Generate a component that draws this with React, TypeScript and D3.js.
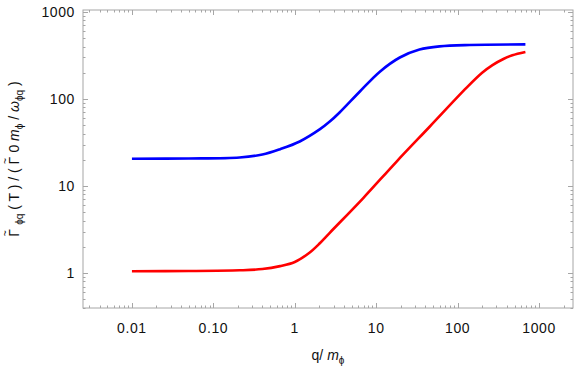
import React from 'react'
import * as d3 from 'd3'

// values
const blueQ = [0.01, 0.05, 0.21, 0.4, 0.66, 1.15, 2.04, 2.69, 3.55, 6.3, 11, 19.5, 34, 60, 140, 680]
const blueValues = [20.6, 20.7, 21.3, 23, 26.5, 32.5, 45, 55, 70, 122, 205, 300, 370, 403, 418, 424]
const redQ = [0.01, 0.05, 0.21, 0.4, 0.66, 1.0, 1.5, 2.03, 2.69, 6.89, 17.7, 45.3, 128, 200, 268, 370, 470, 680]
const redValues = [1.05, 1.055, 1.075, 1.11, 1.2, 1.34, 1.7, 2.2, 2.9, 7.22, 19, 48, 134, 200, 245, 290, 318, 347]

const xTickValues = [0.01, 0.1, 1, 10, 100, 1000]
const xTickLabels = ['0.01', '0.10', '1', '10', '100', '1000']
const yTickValues = [1, 10, 100, 1000]
const yTickLabels = ['1', '10', '100', '1000']

const W = 581, H = 375
const margin = {top: 10, right: 8, bottom: 67, left: 83}
const FONT = "'Liberation Sans', Arial, sans-serif"
const FRAME = '#a6a6a6'

function minorTicks(lo: number, hi: number) {
    const out: number[] = []
    for (let e = Math.floor(Math.log10(lo)); e <= Math.ceil(Math.log10(hi)); e++) {
        for (let m = 1; m < 10; m++) {
            const v = m * Math.pow(10, e)
            if (v >= lo && v <= hi) out.push(v)
        }
    }
    return out
}

// Gamma with a tilde set above it
const GammaTilde = () => (
    <>
        <tspan>Γ</tspan>
        <tspan dx={-7.2} dy={-10.5} fontSize={10}>~</tspan>
        <tspan dy={10.5} dx={1.6}> </tspan>
    </>
)

export default function App() {
    const x0 = margin.left, x1 = W - margin.right
    const y0 = margin.top, y1 = H - margin.bottom
    const xDomain = [Math.pow(10, -2.601), Math.pow(10, 3.417)]
    const yDomain = [Math.pow(10, -0.402), Math.pow(10, 3.023)]
    const xScale = d3.scaleLog().domain(xDomain).range([x0, x1])
    const yScale = d3.scaleLog().domain(yDomain).range([y1, y0])

    const line = d3.line<[number, number]>()
        .x(d => xScale(d[0]))
        .y(d => yScale(d[1]))
        .curve(d3.curveCatmullRom.alpha(0.5))

    const bluePts = blueQ.map((q, i) => [q, blueValues[i]] as [number, number])
    const redPts = redQ.map((q, i) => [q, redValues[i]] as [number, number])

    const xTicks = minorTicks(xDomain[0], xDomain[1])
    const yTicks = minorTicks(yDomain[0], yDomain[1])
    const isMajor = (v: number) => Math.abs(Math.log10(v) - Math.round(Math.log10(v))) < 1e-9

    return (
        <svg width={W} height={H} style={{position: 'absolute', left: 0, top: 0}} fontFamily={FONT}>
            <rect width={W} height={H} fill="white" />
            <clipPath id="plotClip"><rect x={x0} y={y0} width={x1 - x0} height={y1 - y0} /></clipPath>
            <g clipPath="url(#plotClip)">
                <path d={line(bluePts) || ''} fill="none" stroke="#0000ff" strokeWidth={2.6} />
                <path d={line(redPts) || ''} fill="none" stroke="#ff0000" strokeWidth={2.6} />
            </g>
            <rect x={x0} y={y0} width={x1 - x0} height={y1 - y0} fill="none" stroke={FRAME} strokeWidth={1} />
            {xTicks.map((v, i) => {
                const x = Math.round(xScale(v)) + 0.5
                const len = isMajor(v) ? 5 : 2.5
                return <g key={'xt' + i} stroke={FRAME} strokeWidth={1}>
                    <line x1={x} x2={x} y1={y1} y2={y1 - len} />
                    <line x1={x} x2={x} y1={y0} y2={y0 + len} />
                </g>
            })}
            {yTicks.map((v, i) => {
                const y = Math.round(yScale(v)) + 0.5
                const len = isMajor(v) ? 5 : 2.5
                return <g key={'yt' + i} stroke={FRAME} strokeWidth={1}>
                    <line x1={x0} x2={x0 + len} y1={y} y2={y} />
                    <line x1={x1} x2={x1 - len} y1={y} y2={y} />
                </g>
            })}
            {xTickValues.map((v, i) => (
                <text key={'xl' + i} x={xScale(v)} y={y1 + 25} textAnchor="middle" fontSize={14} fill="#111" letterSpacing={0.6}>{xTickLabels[i]}</text>
            ))}
            {yTickValues.map((v, i) => (
                <text key={'yl' + i} x={x0 - 8} y={yScale(v) + 5} textAnchor="end" fontSize={14} fill="#111" letterSpacing={0.6}>{yTickLabels[i]}</text>
            ))}
            <text x={(x0 + x1) / 2} y={360} textAnchor="middle" fontSize={14} fill="#111">
                q/ <tspan fontStyle="italic">m</tspan><tspan fontSize={10} dy={4}>ϕ</tspan>
            </text>
            <text transform={`translate(19,${(y0 + y1) / 2}) rotate(-90)`} textAnchor="middle" fontSize={14} fill="#111">
                <GammaTilde />
                <tspan fontSize={10} dy={4}>ϕq</tspan>
                <tspan dy={-4}> ( T ) / ( </tspan>
                <GammaTilde />
                <tspan>0 </tspan>
                <tspan fontStyle="italic">m</tspan>
                <tspan fontSize={10} dy={4}>ϕ</tspan>
                <tspan dy={-4}> / </tspan>
                <tspan fontStyle="italic">ω</tspan>
                <tspan fontSize={10} dy={4}>ϕq</tspan>
                <tspan dy={-4}> )</tspan>
            </text>
        </svg>
    )
}
